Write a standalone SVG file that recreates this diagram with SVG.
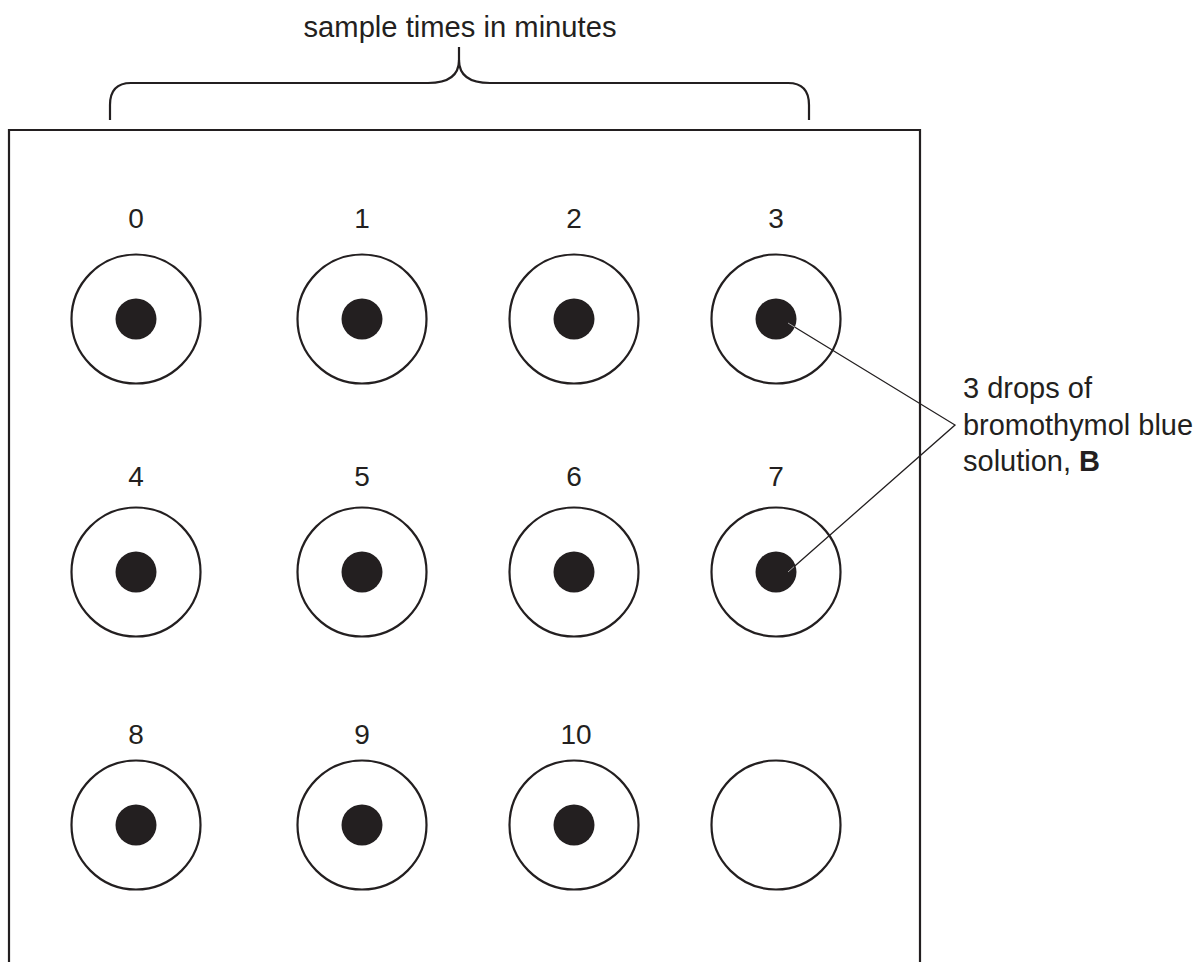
<svg xmlns="http://www.w3.org/2000/svg" width="1200" height="962" viewBox="0 0 1200 962">
<style>
.t{font-family:"Liberation Sans",Arial,sans-serif;font-size:29px;fill:#231f20}
.n{font-family:"Liberation Sans",Arial,sans-serif;font-size:28px;fill:#231f20;text-anchor:middle}
.ln{fill:none;stroke:#231f20;stroke-width:2.2}
.well{fill:#fff;stroke:#231f20;stroke-width:2.2}
.dot{fill:#231f20}
</style>
<defs>
<g id="w"><circle class="well" cx="0" cy="0" r="64.5"/><circle class="dot" cx="0" cy="0" r="20.5"/></g>
</defs>
<rect width="1200" height="962" fill="#fff"/>
<g id="plate"><path class="ln" d="M9,962 V130 H920 V962"/></g>
<g id="brace">
<path class="ln" d="M459,47 V60 C459,75 449,83 428,83 H131 C117,83 110,91 110,105 V120"/>
<path class="ln" d="M459,60 C459,75 469,83 490,83 H788 C802,83 809,91 809,105 V120"/>
<text class="t" x="460" y="37" text-anchor="middle" textLength="313" lengthAdjust="spacingAndGlyphs">sample times in minutes</text>
</g>
<g id="well0"><use href="#w" x="136" y="319"/><text class="n" x="136" y="228">0</text></g>
<g id="well1"><use href="#w" x="362" y="319"/><text class="n" x="362" y="228">1</text></g>
<g id="well2"><use href="#w" x="574" y="319"/><text class="n" x="574" y="228">2</text></g>
<g id="well3"><use href="#w" x="776" y="319"/><text class="n" x="776" y="228">3</text></g>
<g id="well4"><use href="#w" x="136" y="572"/><text class="n" x="136" y="486">4</text></g>
<g id="well5"><use href="#w" x="362" y="572"/><text class="n" x="362" y="486">5</text></g>
<g id="well6"><use href="#w" x="574" y="572"/><text class="n" x="574" y="486">6</text></g>
<g id="well7"><use href="#w" x="776" y="572"/><text class="n" x="776" y="486">7</text></g>
<g id="well8"><use href="#w" x="136" y="825"/><text class="n" x="136" y="744">8</text></g>
<g id="well9"><use href="#w" x="362" y="825"/><text class="n" x="362" y="744">9</text></g>
<g id="well10"><use href="#w" x="574" y="825"/><text class="n" x="576" y="744">10</text></g>
<g id="well11"><circle class="well" cx="776" cy="825" r="64.5"/></g>
<g id="connectors">
<polyline fill="none" stroke="#231f20" stroke-width="1.3" points="788,323 955,425 788,572"/>
<line x1="788" y1="323" x2="795" y2="327.3" stroke="#fff" stroke-width="0.6"/>
<line x1="788" y1="572" x2="794" y2="566.7" stroke="#fff" stroke-width="0.6"/>
</g>
<g id="label">
<text class="t" x="963" y="398">3 drops of</text>
<text class="t" x="963" y="435" textLength="230" lengthAdjust="spacingAndGlyphs">bromothymol blue</text>
<text class="t" x="963" y="471">solution, <tspan font-weight="bold">B</tspan></text>
</g>
</svg>
